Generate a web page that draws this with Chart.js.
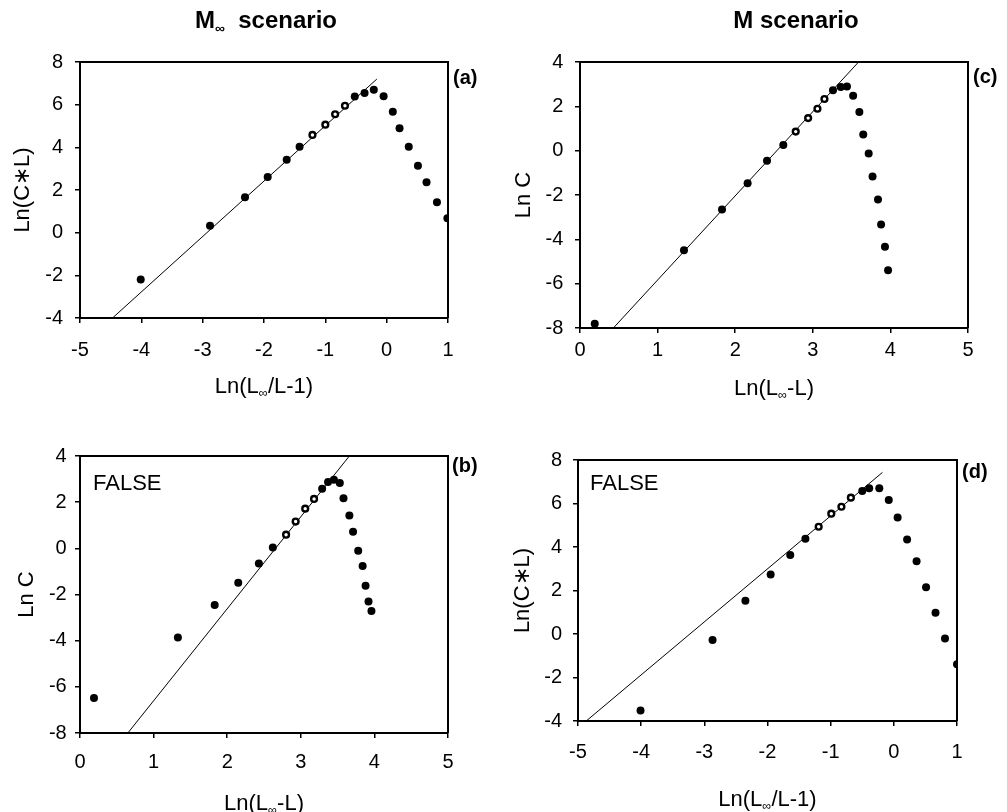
<!DOCTYPE html>
<html>
<head>
<meta charset="utf-8">
<script src="https://cdn.jsdelivr.net/npm/chart.js@4.4.1/dist/chart.umd.min.js"></script>
<style>
html,body{margin:0;padding:0;background:#fff;}
body{width:1007px;height:812px;position:relative;overflow:hidden;}
canvas{position:absolute;}
</style>
</head>
<body>
<canvas id="ca" width="500" height="405" style="left:0;top:0;width:500px;height:405px"></canvas>
<canvas id="cc" width="507" height="405" style="left:500px;top:0;width:507px;height:405px"></canvas>
<canvas id="cb" width="500" height="407" style="left:0;top:405px;width:500px;height:407px"></canvas>
<canvas id="cd" width="507" height="407" style="left:500px;top:405px;width:507px;height:407px"></canvas>
<script>
// ---------- data ----------
// (a) M-infinity scenario, Ln(C*L) vs Ln(Linf/L-1)
const aX = [-4.01, -2.88, -2.31, -1.94, -1.63, -1.42, -0.52, -0.36, -0.21, -0.05, 0.10, 0.21, 0.36, 0.51, 0.65, 0.82, 0.99];
const aY = [-2.2, 0.33, 1.66, 2.61, 3.42, 4.03, 6.38, 6.55, 6.70, 6.39, 5.67, 4.89, 4.03, 3.14, 2.36, 1.42, 0.67];
const aFitX = [-1.21, -1.0, -0.84, -0.68];
const aFitY = [4.58, 5.06, 5.55, 5.95];
const aLineX = [-4.47, -0.16];
const aLineY = [-4, 7.2];

// (c) M scenario, Ln C vs Ln(Linf-L)
const cX = [0.19, 1.34, 1.83, 2.16, 2.41, 2.62, 3.26, 3.36, 3.44, 3.52, 3.60, 3.65, 3.72, 3.77, 3.84, 3.88, 3.93, 3.97];
const cY = [-7.81, -4.49, -2.65, -1.47, -0.45, 0.26, 2.72, 2.87, 2.90, 2.48, 1.75, 0.73, -0.13, -1.17, -2.20, -3.33, -4.34, -5.40];
const cFitX = [2.78, 2.94, 3.06, 3.15];
const cFitY = [0.86, 1.47, 1.89, 2.33];
const cLineX = [0.43, 3.59];
const cLineY = [-8, 4];

// (b) M-infinity scenario, FALSE, Ln C vs Ln(Linf-L)
const bX = [0.19, 1.33, 1.83, 2.15, 2.43, 2.62, 3.29, 3.37, 3.45, 3.53, 3.58, 3.66, 3.71, 3.78, 3.84, 3.88, 3.92, 3.96];
const bY = [-6.48, -3.86, -2.45, -1.49, -0.66, 0.04, 2.58, 2.87, 2.97, 2.83, 2.17, 1.42, 0.72, -0.10, -0.77, -1.62, -2.30, -2.71];
const bFitX = [2.80, 2.93, 3.06, 3.18];
const bFitY = [0.59, 1.16, 1.72, 2.14];
const bLineX = [0.65, 3.66];
const bLineY = [-8, 4];

// (d) M scenario, FALSE, Ln(C*L) vs Ln(Linf/L-1)
const dX = [-4.01, -2.87, -2.35, -1.95, -1.64, -1.40, -0.50, -0.39, -0.23, -0.08, 0.06, 0.21, 0.36, 0.51, 0.66, 0.81, 1.0];
const dY = [-3.52, -0.28, 1.53, 2.73, 3.63, 4.38, 6.57, 6.70, 6.70, 6.16, 5.36, 4.35, 3.34, 2.15, 0.98, -0.21, -1.39];
const dFitX = [-1.19, -0.99, -0.83, -0.68];
const dFitY = [4.93, 5.53, 5.85, 6.27];
const dLineX = [-4.87, -0.18];
const dLineY = [-4, 7.43];

// axis ranges / texts
const xRangeLogit = [-5, 1];
const yRangeCL = [-4, 8];
const xRangeVB = [0, 5];
const yRangeC = [-8, 4];
const headInf = [['M', 0], ['\u221E', 1], ['  scenario', 0]];
const headM = [['M scenario', 0]];
const titleLogit = [['Ln(L', 0], ['\u221E', 1], ['/L-1)', 0]];
const titleVB = [['Ln(L', 0], ['\u221E', 1], ['-L)', 0]];
const titleCL = [['Ln(C\u2217L)', 0]];
const titleC = [['Ln C', 0]];

// ---------- helpers ----------
const FAM = '"Liberation Sans", Arial, Helvetica, sans-serif';
const TITLE_SIZE = 22;
function zip(xs, ys) { return xs.map((x, i) => ({x: x, y: ys[i]})); }
function drawRich(ctx, segs, cx, baseY, size, bold) {
  const f = s => (bold ? 'bold ' : '') + s + 'px ' + FAM;
  let total = 0;
  const parts = segs.map(([t, sub]) => {
    const s = sub ? size * 0.58 : size;
    ctx.font = f(s);
    const m = ctx.measureText(t).width;
    total += m;
    return {t, s, m, sub};
  });
  let x = cx - total / 2;
  ctx.textAlign = 'left';
  ctx.textBaseline = 'alphabetic';
  for (const p of parts) {
    ctx.font = f(p.s);
    ctx.fillText(p.t, x, baseY + (p.sub ? size * 0.2 : 0));
    x += p.m;
  }
}

const deco = {
  id: 'deco',
  afterDraw(chart, args, o) {
    const ctx = chart.ctx, a = chart.chartArea;
    ctx.save();
    ctx.strokeStyle = '#000';
    ctx.lineWidth = 2;
    ctx.beginPath();
    ctx.moveTo(a.left, a.top);
    ctx.lineTo(a.right, a.top);
    ctx.lineTo(a.right, a.bottom);
    ctx.stroke();
    ctx.fillStyle = '#000';
    // panel tag
    ctx.font = 'bold 20px ' + FAM;
    ctx.textAlign = 'left';
    ctx.textBaseline = 'middle';
    ctx.fillText(o.tag, a.right + o.tagDx, a.top + o.tagDy);
    if (o.note) {
      ctx.font = '22px ' + FAM;
      ctx.fillText(o.note, a.left + o.noteDx, a.top + o.noteDy);
    }
    // x title
    drawRich(ctx, o.xTitle, (a.left + a.right) / 2, a.bottom + o.xTitleDy + 0.36 * TITLE_SIZE, TITLE_SIZE, false);
    // column heading
    if (o.head) drawRich(ctx, o.head, o.headX, o.headY, 24, true);
    // y title
    ctx.translate(o.yTitleX, (a.top + a.bottom) / 2);
    ctx.rotate(-Math.PI / 2);
    drawRich(ctx, o.yTitle, 0, 0.36 * TITLE_SIZE, TITLE_SIZE, false);
    ctx.restore();
  }
};

function makeChart(id, p) {
  const cv = document.getElementById(id);
  const W = cv.width, H = cv.height;
  const tickFont = {family: FAM, size: 20};
  return new Chart(cv, {
    type: 'scatter',
    data: {
      datasets: [
        {data: zip(p.x, p.y), pointRadius: 4, pointHoverRadius: 4, backgroundColor: '#000', borderColor: '#000', borderWidth: 0},
        {data: zip(p.fx, p.fy), pointRadius: 2.9, pointHoverRadius: 2.9, backgroundColor: '#fff', borderColor: '#000', borderWidth: 2.4},
        {type: 'line', data: zip(p.lx, p.ly), borderColor: '#000', borderWidth: 1, pointRadius: 0, fill: false, tension: 0}
      ]
    },
    options: {
      responsive: false,
      animation: false,
      devicePixelRatio: 1,
      events: [],
      layout: {padding: {top: p.T, right: W - p.R, left: 0, bottom: 0}},
      plugins: {legend: {display: false}, tooltip: {enabled: false}, title: {display: false}, deco: p.deco},
      scales: {
        x: {
          type: 'linear', min: p.xr[0], max: p.xr[1],
          ticks: {stepSize: 1, color: '#000', font: tickFont, padding: p.xPad, maxRotation: 0},
          grid: {drawOnChartArea: false, drawTicks: true, tickLength: 5, color: '#000', lineWidth: 1.5},
          border: {display: true, color: '#000', width: 2},
          afterFit: s => { s.height = H - p.B; }
        },
        y: {
          type: 'linear', min: p.yr[0], max: p.yr[1],
          ticks: {stepSize: 2, color: '#000', font: tickFont, padding: p.yPad},
          grid: {drawOnChartArea: false, drawTicks: true, tickLength: 5, color: '#000', lineWidth: 1.5},
          border: {display: true, color: '#000', width: 2},
          afterFit: s => { s.width = p.L; }
        }
      }
    },
    plugins: [deco]
  });
}

makeChart('ca', {
  x: aX, y: aY, fx: aFitX, fy: aFitY, lx: aLineX, ly: aLineY,
  xr: xRangeLogit, yr: yRangeCL, L: 80, T: 62, R: 448, B: 318, xPad: 15, yPad: 12,
  deco: {tag: '(a)', tagDx: 5, tagDy: 16, xTitle: titleLogit, xTitleDy: 67, yTitle: titleCL, yTitleX: 21, head: headInf, headX: 266, headY: 28}
});
makeChart('cc', {
  x: cX, y: cY, fx: cFitX, fy: cFitY, lx: cLineX, ly: cLineY,
  xr: xRangeVB, yr: yRangeC, L: 80, T: 62, R: 468, B: 328, xPad: 5.6, yPad: 11.7,
  deco: {tag: '(c)', tagDx: 5, tagDy: 15, xTitle: titleVB, xTitleDy: 59, yTitle: titleC, yTitleX: 22, head: headM, headX: 296, headY: 28}
});
makeChart('cb', {
  x: bX, y: bY, fx: bFitX, fy: bFitY, lx: bLineX, ly: bLineY,
  xr: xRangeVB, yr: yRangeC, L: 80, T: 51, R: 448, B: 328, xPad: 12, yPad: 8.3,
  deco: {tag: '(b)', tagDx: 4, tagDy: 10, note: 'FALSE', noteDx: 13, noteDy: 27.6, xTitle: titleVB, xTitleDy: 69, yTitle: titleC, yTitleX: 25}
});
makeChart('cd', {
  x: dX, y: dY, fx: dFitX, fy: dFitY, lx: dLineX, ly: dLineY,
  xr: xRangeLogit, yr: yRangeCL, L: 78, T: 55, R: 457, B: 316, xPad: 14, yPad: 11,
  deco: {tag: '(d)', tagDx: 5, tagDy: 12, note: 'FALSE', noteDx: 12, noteDy: 24, xTitle: titleLogit, xTitleDy: 77, yTitle: titleCL, yTitleX: 21}
});
</script>
</body>
</html>
